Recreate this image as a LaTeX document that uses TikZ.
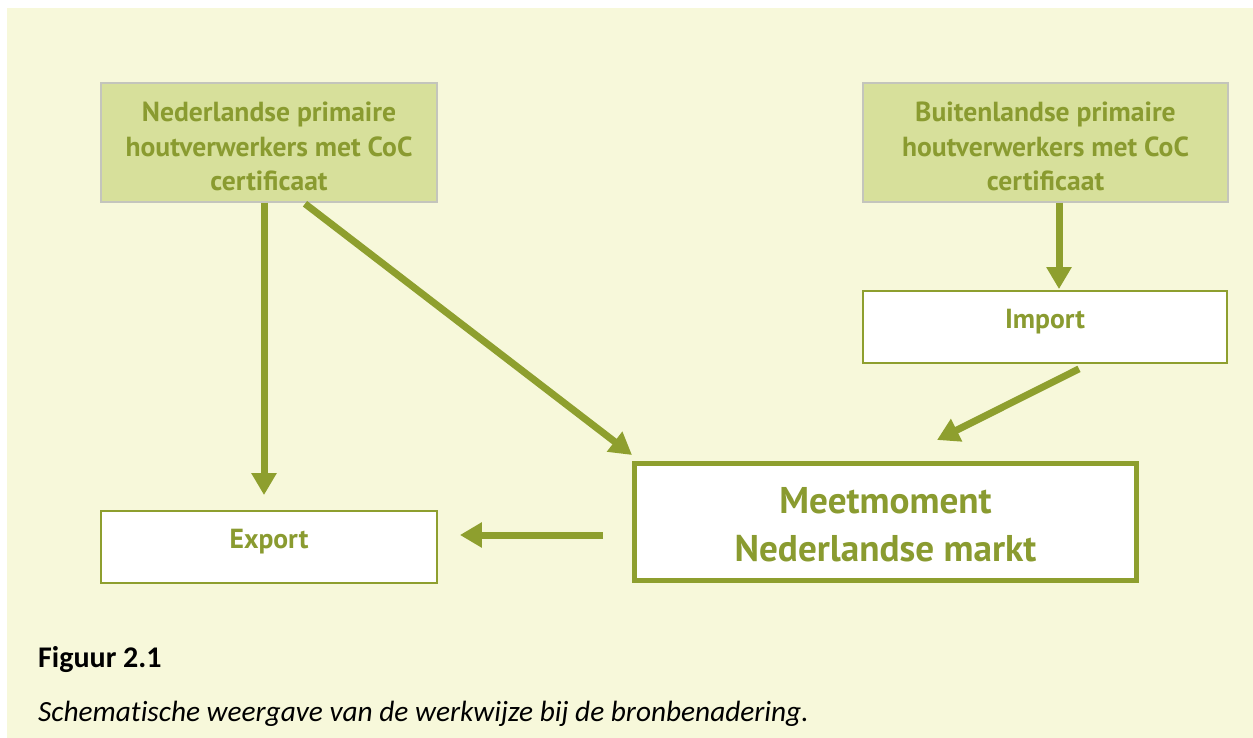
\documentclass[tikz,border=0pt]{standalone}
\usepackage{fontspec}
\newfontfamily\ptsans{PT Sans}[BoldFont={PT Sans Bold}]
\newfontfamily\capfont{Carlito}[Ligatures=NoCommon]
\usetikzlibrary{arrows.meta,calc}
\definecolor{bgc}{HTML}{F7F8DA}
\definecolor{olive}{HTML}{8E9F2E}
\definecolor{boxfill}{HTML}{D7E09B}
\definecolor{boxline}{HTML}{C4C5BC}
\definecolor{txt}{HTML}{8A9B30}
\begin{document}
\begin{tikzpicture}[x=1pt,y=-1pt,
  srcbox/.style={draw=boxline,line width=1.5pt,fill=boxfill,minimum height=119pt,inner sep=0pt},
  boxtext/.style={inner sep=0pt,align=center,text=txt,font=\ptsans\bfseries\fontsize{27.6}{34.5}\selectfont},
  endbox/.style={draw=olive,line width=1.8pt,fill=white,minimum height=72pt,inner sep=0pt,text depth=16pt,text=txt,font=\ptsans\bfseries\fontsize{27.6}{34.5}\selectfont},
  mainbox/.style={draw=olive,line width=5pt,fill=white,minimum width=502pt,minimum height=117pt,inner sep=0pt},
  maintext/.style={inner sep=0pt,align=center,text=txt,font=\ptsans\bfseries\fontsize{37.2}{48}\selectfont},
  flow/.style={draw=olive,line width=7pt,-{Triangle[width=24pt,length=22pt]}}]
\useasboundingbox (0,0) rectangle (1253,738);
\fill[white] (0,0) rectangle (1253,738);
\fill[bgc] (7,8) rectangle (1253,738);

\node[srcbox,minimum width=336pt,label={[name=nlt,boxtext,yshift=-4pt]center:{Nederlandse primaire\\houtverwerkers met CoC\\certificaat}}] (nl) at (269,142.5) {};
\node[srcbox,minimum width=365pt,label={[name=blt,boxtext,yshift=-4pt]center:{Buitenlandse primaire\\houtverwerkers met CoC\\certificaat}}] (bl) at (1045.5,142.5) {};
\node[endbox,minimum width=364pt] (imp) at (1045,327) {Import};
\node[endbox,minimum width=336pt] (exp) at (269,547) {Export};
\node[mainbox,label={[name=mmt,maintext,yshift=-3pt]center:{Meetmoment\\Nederlandse markt}}] (mm) at (885.5,522) {};

\draw[flow] ($(nl.south)+(-5,0)$) -- ($(exp.north)+(-5,-15)$);
\draw[flow] ($(nl.south)+(36,1)$) -- ($(mm.north west)+(0,-6)$);
\draw[flow] ($(bl.south)+(13.5,0)$) -- ($(imp.north)+(14,-1)$);
\draw[flow] ($(imp.south)+(34,5)$) -- ($(mm.north)+(51.5,-21)$);
\draw[flow] ($(mm.west)+(-29,13)$) -- ($(exp.east)+(22,-12)$);

\node[anchor=base west,inner sep=0pt,font=\capfont\bfseries\fontsize{30}{36}\selectfont] (fig) at (38,667) {Figuur 2.1};
\node[anchor=base west,inner sep=0pt,font=\capfont\itshape\fontsize{29.3}{36}\selectfont] (cap) at (38,721) {Schematische weergave van de werkwijze bij de bronbenadering.};
\end{tikzpicture}
\end{document}
